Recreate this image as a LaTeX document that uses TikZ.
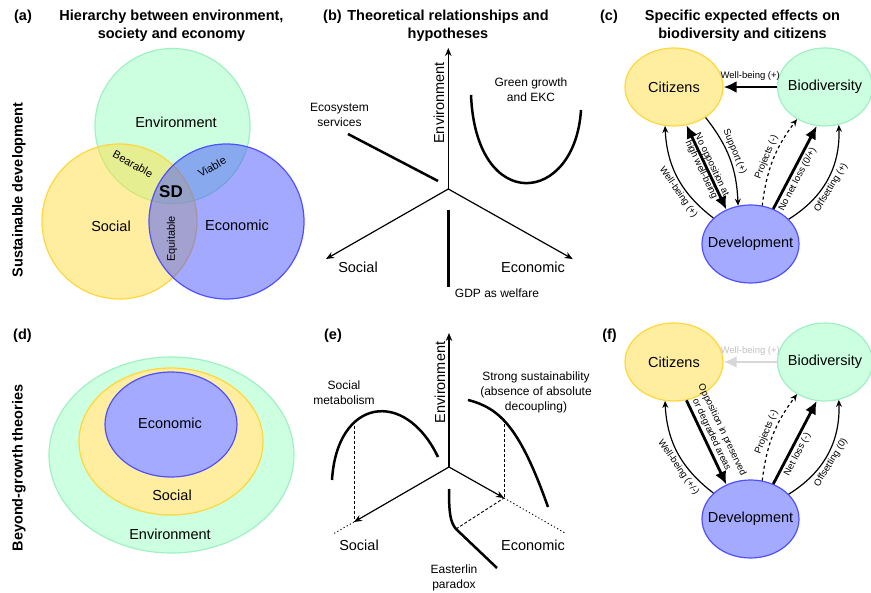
\documentclass[tikz,border=0pt]{standalone}
\usepackage{fontspec}
\setmainfont{Liberation Sans}
\usetikzlibrary{arrows.meta,shapes.geometric}
\definecolor{envF}{RGB}{205,255,225}
\definecolor{envD}{RGB}{160,240,195}
\definecolor{socF}{RGB}{255,238,160}
\definecolor{socD}{RGB}{255,215,60}
\definecolor{ecoF}{RGB}{163,170,255}
\definecolor{ecoD}{RGB}{80,80,255}
\definecolor{envT}{RGB}{155,255,195}
\definecolor{socT}{RGB}{255,222,65}
\definecolor{ecoT}{RGB}{72,85,255}
\definecolor{greyA}{RGB}{215,215,215}
\definecolor{greyT}{RGB}{195,195,195}
\tikzset{
 txtbig/.style={font=\fontsize{14.5}{17.5}\selectfont, inner sep=1pt},
 txtbold/.style={font=\fontsize{14.5}{17.5}\selectfont\bfseries, inner sep=1pt},
 txtsmall/.style={font=\fontsize{12}{15}\selectfont, inner sep=1pt},
 txtvenn/.style={font=\fontsize{11}{13}\selectfont, inner sep=1pt},
 txtarr/.style={font=\fontsize{9.5}{11.5}\selectfont, inner sep=2pt},
 venn/.style={circle, minimum size=155pt, inner sep=0pt, line width=1.2pt, fill opacity=0.5, draw opacity=1},
 ell/.style={ellipse, inner sep=0pt, line width=1.2pt},
 axisarr/.style={line width=1.2pt, -{Stealth[length=8pt,width=6.5pt]}},
 thkcurve/.style={line width=2.5pt},
 thinarr/.style={line width=1.2pt, -{Stealth[length=7pt,width=6pt]}},
 thickarr/.style={line width=2.8pt, -{Latex[length=13pt,width=12pt]}},
 thickboth/.style={line width=2.8pt, {Latex[length=13pt,width=12pt]}-{Latex[length=13pt,width=12pt]}},
 dasharr/.style={line width=1.2pt, dash pattern=on 3pt off 3pt, -{Stealth[length=7pt,width=6pt]}},
 dashln/.style={line width=0.9pt, dash pattern=on 3pt off 2pt},
 dotln/.style={line width=0.9pt, dash pattern=on 1.2pt off 2.4pt},
}
\begin{document}
\begin{tikzpicture}[x=1pt,y=1pt]
\useasboundingbox (0,0) rectangle (871,-593);
\fill[white] (0,0) rectangle (871,-593);

% ---------------- (a)
\node[txtbold] (la) at (23,-17) {(a)};
\node[txtbold, align=center] (ta) at (171.5,-26) {Hierarchy between environment,\\society and economy};
\node[txtbold, rotate=90] (sda) at (19,-190) {Sustainable development};
\node[venn, draw=envD, fill=envT] (cenv) at (172.5,-126) {};
\node[venn, draw=socD, fill=socT] (csoc) at (119.5,-221.5) {};
\node[venn, draw=ecoD, fill=ecoT] (ceco) at (226.5,-221.5) {};
\node[txtbig] (tenv) at (176,-122) {Environment};
\node[txtbig] (tsoc) at (111,-226) {Social};
\node[txtbig] (teco) at (237,-225) {Economic};
\node[font=\fontsize{17}{20}\selectfont\bfseries, inner sep=1pt] (tsd) at (171,-192) {SD};
\node[txtvenn, rotate=-29] (tbea) at (133,-164) {Bearable};
\node[txtvenn, rotate=30] (tvia) at (212,-167) {Viable};
\node[txtvenn, rotate=90] (tequ) at (172,-239) {Equitable};

% ---------------- (b)
\node[txtbold] (lb) at (332.5,-17) {(b)};
\node[txtbold, align=center] (tb) at (448,-26) {Theoretical relationships and\\hypotheses};
\coordinate (ob) at (448.3,-189);
\coordinate (ub) at (448.3,-48);
\coordinate (lbx) at (326,-259);
\coordinate (rbx) at (572.7,-259);
\draw[axisarr] (ob) -- (ub);
\draw[axisarr] (ob) -- (lbx);
\draw[axisarr] (ob) -- (rbx);
\node[txtbig, rotate=90] (benv) at (439,-103) {Environment};
\node[txtbig] (bsoc) at (358,-267) {Social};
\node[txtbig] (beco) at (533,-267) {Economic};
\coordinate (gdp1) at (448.3,-210);
\coordinate (gdp2) at (448.3,-287);
\draw[thkcurve] (gdp1) -- (gdp2);
\node[txtsmall] (bgdp) at (497,-293) {GDP as welfare};
\coordinate (eco1) at (348,-134);
\coordinate (eco2) at (438,-181);
\draw[thkcurve] (eco1) -- (eco2);
\node[txtsmall, align=center] (bes) at (339.5,-114.5) {Ecosystem\\services};
\coordinate (gg1) at (471,-95);
\coordinate (gg2) at (581,-110);
\draw[thkcurve] (gg1) .. controls (476,-215) and (575,-205) .. (gg2);
\node[txtsmall, align=center] (bgg) at (531,-90) {Green growth\\and EKC};

% ---------------- (c)
\node[txtbold] (lc) at (609,-17) {(c)};
\node[txtbold, align=center] (tc) at (742.5,-26) {Specific expected effects on\\biodiversity and citizens};
\node[ell, draw=socD, fill=socF, minimum width=98pt, minimum height=78pt, label={[txtbig]center:Citizens}] (cit) at (674,-87) {};
\node[ell, draw=envD, fill=envF, minimum width=95pt, minimum height=78pt, label={[txtbig]center:Biodiversity}] (bio) at (825,-87) {};
\node[ell, draw=ecoD, fill=ecoF, minimum width=97pt, minimum height=78pt, label={[txtbig]center:Development}] (dev) at (750.5,-244) {};
\draw[thickarr] (bio.180) -- node[txtarr, above=3pt] {Well-being (+)} (cit.0);
\draw[thinarr] (dev.145) to[bend left=25] node[txtarr, sloped, below, pos=0.38] {Well-being (+)} (cit.-103);
\draw[thickboth] (dev.125) -- node[txtarr, sloped, align=center, inner sep=0pt] {No opposition at\\high well-being} (cit.-72);
\draw[thinarr] (cit.-44) to[bend left=18] node[txtarr, sloped, above, pos=0.45] {Support (+)} (dev.108);
\draw[dasharr] (dev.73) to[bend left=15] node[txtarr, sloped, above, pos=0.5] {Projects (-)} (bio.-131);
\draw[thickarr] (dev.57) -- node[txtarr, sloped, below, pos=0.4] {No net loss (0/+)} (bio.-102);
\draw[thinarr] (dev.33) to[bend right=30] node[txtarr, sloped, below, pos=0.45] {Offsetting (+)} (bio.-70);

% ---------------- (d)
\node[txtbold] (ld) at (22.5,-336) {(d)};
\node[txtbold, rotate=90] (bgt) at (19,-468) {Beyond-growth theories};
\node[ell, draw=envD, fill=envF, minimum width=245pt, minimum height=196pt] (denv) at (171.5,-455) {};
\node[ell, draw=socD, fill=socF, minimum width=184pt, minimum height=147pt] (dsoc) at (171,-441.5) {};
\node[ell, draw=ecoD, fill=ecoF, minimum width=132pt, minimum height=105pt] (deco) at (171,-424.5) {};
\node[txtbig] (tdeco) at (170,-423) {Economic};
\node[txtbig] (tdsoc) at (172,-495) {Social};
\node[txtbig] (tdenv) at (170,-534) {Environment};

% ---------------- (e)
\node[txtbold] (le) at (333,-336) {(e)};
\coordinate (oe) at (449,-467);
\coordinate (ue) at (449,-333);
\coordinate (lex) at (354,-522);
\coordinate (rex) at (504,-498);
\coordinate (lexd) at (333,-534);
\coordinate (rexd) at (565,-533);
\draw[axisarr] (oe) -- (ue);
\draw[axisarr] (oe) -- (lex);
\draw[axisarr] (oe) -- (rex);
\draw[dotln] (lex) -- (lexd);
\draw[dotln] (rex) -- (rexd);
\node[txtbig, rotate=90] (eenv) at (440,-382.5) {Environment};
\node[txtbig] (esoc) at (359,-545) {Social};
\node[txtbig] (eeco) at (533,-545) {Economic};
% social metabolism
\coordinate (sm1) at (332,-480);
\coordinate (sm2) at (438,-457);
\coordinate (smtop) at (354,-421);
\draw[thkcurve] (sm1) .. controls (337,-398) and (405,-388) .. (sm2);
\draw[dashln] (smtop) -- (lex);
\node[txtsmall, align=center] (esm) at (344,-392.5) {Social\\metabolism};
% strong sustainability
\coordinate (ss1) at (468,-400);
\coordinate (ss2) at (548,-507);
\coordinate (sstop) at (504,-419);
\draw[thkcurve] (ss1) .. controls (500,-408) and (520,-428) .. (ss2);
\draw[dashln] (sstop) -- (rex);
\node[txtsmall, align=center] (ess) at (536,-392) {Strong sustainability\\(absence of absolute\\decoupling)};
% easterlin
\coordinate (ea1) at (449,-489);
\coordinate (eac) at (456,-529);
\coordinate (ea2) at (497,-568);
\draw[thkcurve] (ea1) .. controls (449,-512) and (450,-522) .. (eac) -- (ea2);
\draw[dashln] (eac) -- (rex);
\node[txtsmall, align=center] (eea) at (454,-578) {Easterlin\\paradox};

% ---------------- (f)
\node[txtbold] (lf) at (609.5,-336) {(f)};
\node[ell, draw=socD, fill=socF, minimum width=98pt, minimum height=78pt, label={[txtbig]center:Citizens}] (cit2) at (674,-362) {};
\node[ell, draw=envD, fill=envF, minimum width=95pt, minimum height=78pt, label={[txtbig]center:Biodiversity}] (bio2) at (825,-362) {};
\node[ell, draw=ecoD, fill=ecoF, minimum width=97pt, minimum height=78pt, label={[txtbig]center:Development}] (dev2) at (750.5,-519) {};
\draw[thickarr, draw=greyA, -{Latex[length=13pt,width=12pt,fill=greyA]}] (bio2.180) -- node[txtarr, above=3pt, text=greyT] {Well-being (+)} (cit2.0);
\draw[thinarr] (dev2.145) to[bend left=25] node[txtarr, sloped, below, pos=0.38] {Well-being (+/-)} (cit2.-103);
\draw[thickarr] (cit2.-72) -- node[txtarr, sloped, above, align=center, pos=0.45] {Opposition in preserved\\or degraded areas} (dev2.125);
\draw[dasharr] (dev2.73) to[bend left=15] node[txtarr, sloped, above, pos=0.5] {Projects (-)} (bio2.-131);
\draw[thickarr] (dev2.57) -- node[txtarr, sloped, below, pos=0.4] {Net loss (-)} (bio2.-102);
\draw[thinarr] (dev2.33) to[bend right=30] node[txtarr, sloped, below, pos=0.45] {Offsetting (0)} (bio2.-70);
\end{tikzpicture}
\end{document}
